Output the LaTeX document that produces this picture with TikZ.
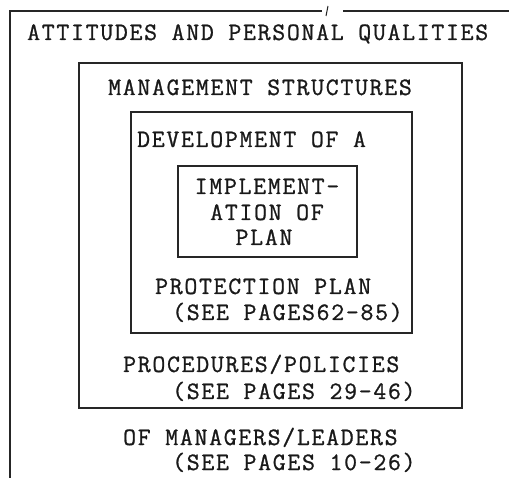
\documentclass[tikz,border=0pt]{standalone}
\usepackage{fontspec}
\newfontfamily\tw[FakeBold=1,LetterSpace=7]{Latin Modern Mono}
\begin{document}
\begin{tikzpicture}[x=1pt,y=-1pt,
  frame/.style={draw=black!85,line width=1.6pt},
  txt/.style={inner sep=0pt,text height=16pt,text depth=2pt,font=\tw\fontsize{25}{26}\selectfont,text=black!90},
  lbl/.style={txt,anchor=west},
  ctr/.style={txt}]
\useasboundingbox (0,0) rectangle (509,478);
% outer frame (open at right and bottom)
\draw[frame] (10,478) -- (10,11) -- (322,11);
\draw[frame] (343,11) -- (509,11);
\draw[black!85,line width=1pt] (328,6) -- (326,16);
% nested boxes
\draw[frame] (79,63) rectangle (462,408);
\draw[frame] (131,112) rectangle (412,333);
\draw[frame] (178,166) rectangle (357,257);
% texts
\node[lbl] (t1) at (27,33) {ATTITUDES AND PERSONAL QUALITIES};
\node[lbl] (t2) at (108,88) {MANAGEMENT STRUCTURES};
\node[lbl] (t3) at (137,140) {DEVELOPMENT OF A};
\node[ctr] (t4a) at (267,187) {IMPLEMENT-};
\node[ctr] (t4b) at (267,213) {ATION OF};
\node[ctr] (t4c) at (264,238) {PLAN};
\node[lbl] (t5) at (155,287) {PROTECTION PLAN};
\node[lbl] (t6) at (172,313) {(SEE PAGES62-85)};
\node[lbl] (t7) at (123,365) {PROCEDURES/POLICIES};
\node[lbl] (t8) at (172,392) {(SEE PAGES 29-46)};
\node[lbl] (t9) at (123,438) {OF MANAGERS/LEADERS};
\node[lbl] (t10) at (172,463) {(SEE PAGES 10-26)};
\end{tikzpicture}
\end{document}
